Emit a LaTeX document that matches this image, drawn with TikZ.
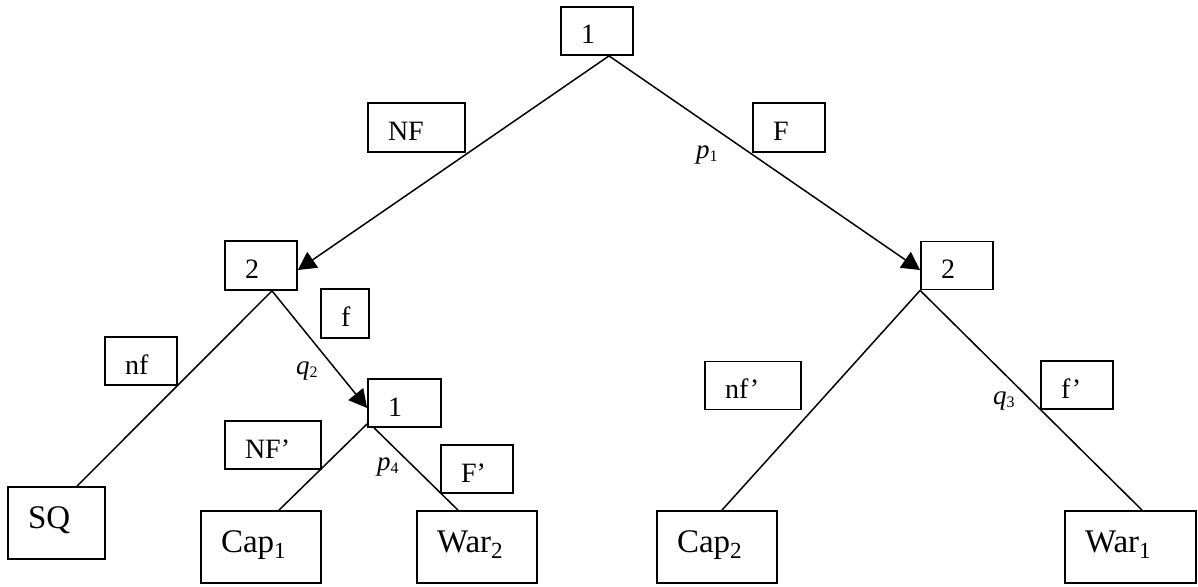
\documentclass[tikz,border=0pt]{standalone}
\usepackage{fontspec}
\setmainfont{Liberation Serif}
\usetikzlibrary{arrows.meta,calc}

% italic probability symbol with an upright index
\newcommand\probsym[2]{\textit{#1}\raisebox{-3pt}{\fontsize{16}{16}\selectfont #2}}

\begin{document}
\begin{tikzpicture}[x=1pt,y=-1pt,
  choice/.style={draw, line width=1.8pt, inner xsep=20pt, inner ysep=0pt,
    minimum height=48pt, text height=26pt, text depth=0pt, align=left,
    font=\fontsize{28}{30}\selectfont},
  outcome/.style={draw, line width=1.8pt, inner xsep=20pt, inner ysep=0pt,
    minimum height=72pt, text height=10pt, text depth=0pt, align=left,
    font=\fontsize{33}{36}\selectfont},
  branch/.style={line width=1.5pt},
  move/.style={branch, -{Triangle[length=18pt,width=19pt]}},
  prob/.style={anchor=base west, inner sep=0pt, font=\fontsize{27}{28}\selectfont}]

\useasboundingbox (0,0) rectangle (1198,586);

% decision nodes
\node[choice, text width=32pt] (top) at (597,31) {1};
\node[choice, text width=32pt, minimum height=49pt] (L2) at (261,265.5) {2};
\node[choice, text width=32pt] (R2) at (957,265.5) {2};
\node[choice, text width=33pt] (M1) at (404.5,403) {1};

% action labels
\node[choice, text width=57pt, minimum height=49pt] (NF) at (416.5,127.5) {NF};
\node[choice, text width=32pt, minimum height=49pt] (F) at (789,127.5) {F};
\node[choice, text width=8pt, minimum height=49pt] (f) at (345,313.5) {f};
\node[choice, text width=32pt] (nf) at (141,361) {nf};
\node[choice, text width=56pt] (NFp) at (273,445) {NF’};
\node[choice, text width=32pt] (Fp) at (477,469) {F’};
\node[choice, text width=56pt] (nfp) at (753,385.5) {nf’};
\node[choice, text width=32pt] (fp) at (1077,385) {f’};

% terminal outcomes
\node[outcome, text width=57pt] (SQ) at (56.5,523) {SQ};
\node[outcome, text width=80pt] (Cap1) at (261,547) {Cap\textsubscript{1}};
\node[outcome, text width=80pt] (War2) at (477,547) {War\textsubscript{2}};
\node[outcome, text width=80pt] (Cap2) at (717,547) {Cap\textsubscript{2}};
\node[outcome, text width=91pt] (War1) at (1130.5,547) {War\textsubscript{1}};

% probabilities
\node[prob] (p1) at (696,158) {\probsym{p}{1}};
\node[prob] (q2) at (296,374) {\probsym{q}{2}};
\node[prob] (p4) at (377,470) {\probsym{p}{4}};
\node[prob] (q3) at (993,404) {\probsym{q}{3}};

% branches
\draw[move] ([xshift=12pt]top.south) -- ([yshift=-4.5pt]L2.east);
\draw[move] ([xshift=12pt]top.south) -- ([yshift=-4.5pt]R2.west);
\draw[branch] ([xshift=11pt]L2.south) -- ([xshift=20.5pt]SQ.north);
\draw[move] ([xshift=11pt]L2.south) -- ([yshift=-5pt]M1.west);
\draw[branch] ([yshift=4pt]M1.south west) -- ([xshift=18pt]Cap1.north);
\draw[branch] ([xshift=7pt]M1.south west) -- ([xshift=-19pt]War2.north);
\draw[branch] (R2.south west) -- ([xshift=5pt]Cap2.north);
\draw[branch] (R2.south west) -- ([xshift=11.5pt]War1.north);

\end{tikzpicture}
\end{document}
